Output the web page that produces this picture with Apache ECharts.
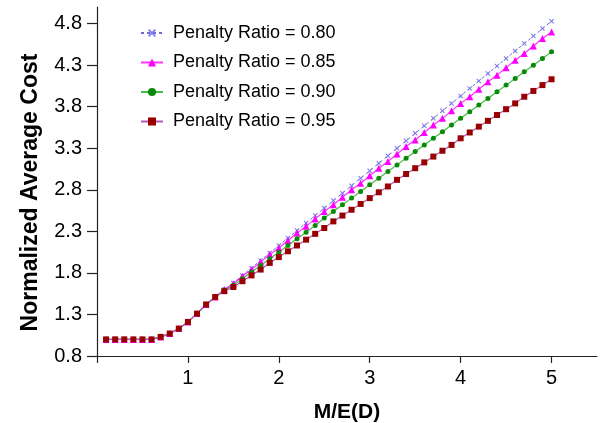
<!DOCTYPE html>
<html>
<head>
<meta charset="utf-8">
<script src="https://cdn.jsdelivr.net/npm/echarts@6/dist/echarts.min.js"></script>
<style>
  html, body { margin: 0; padding: 0; background: #fff; }
  #chart { width: 601px; height: 423px; }
</style>
</head>
<body>
<div id="chart"></div>
<script>
// x: M/E(D)
const xValues = [0.1, 0.2, 0.3, 0.4, 0.5, 0.6, 0.7, 0.8, 0.9, 1.0,
  1.1, 1.2, 1.3, 1.4, 1.5, 1.6, 1.7, 1.8, 1.9, 2.0,
  2.1, 2.2, 2.3, 2.4, 2.5, 2.6, 2.7, 2.8, 2.9, 3.0,
  3.1, 3.2, 3.3, 3.4, 3.5, 3.6, 3.7, 3.8, 3.9, 4.0,
  4.1, 4.2, 4.3, 4.4, 4.5, 4.6, 4.7, 4.8, 4.9, 5.0];

const ratio080 = [1.00, 1.00, 1.00, 1.00, 1.00, 1.00, 1.03, 1.07, 1.13, 1.21,
  1.31, 1.42, 1.51, 1.60, 1.68, 1.77, 1.86, 1.95, 2.04, 2.13,
  2.22, 2.31, 2.40, 2.49, 2.58, 2.67, 2.76, 2.85, 2.94, 3.03,
  3.12, 3.21, 3.30, 3.39, 3.48, 3.57, 3.66, 3.75, 3.84, 3.93,
  4.02, 4.11, 4.20, 4.29, 4.38, 4.47, 4.56, 4.65, 4.74, 4.83];

const ratio085 = [1.00, 1.00, 1.00, 1.00, 1.00, 1.00, 1.03, 1.07, 1.13, 1.21,
  1.31, 1.42, 1.51, 1.60, 1.67, 1.76, 1.84, 1.93, 2.02, 2.10,
  2.19, 2.28, 2.36, 2.45, 2.54, 2.62, 2.71, 2.80, 2.88, 2.97,
  3.06, 3.14, 3.23, 3.32, 3.40, 3.49, 3.58, 3.66, 3.75, 3.84,
  3.92, 4.01, 4.10, 4.18, 4.27, 4.36, 4.44, 4.53, 4.62, 4.70];

const ratio090 = [1.00, 1.00, 1.00, 1.00, 1.00, 1.00, 1.03, 1.07, 1.13, 1.21,
  1.31, 1.42, 1.51, 1.59, 1.65, 1.73, 1.81, 1.89, 1.97, 2.05,
  2.13, 2.21, 2.29, 2.37, 2.46, 2.54, 2.62, 2.70, 2.78, 2.86,
  2.94, 3.02, 3.10, 3.18, 3.26, 3.34, 3.42, 3.50, 3.58, 3.66,
  3.74, 3.82, 3.90, 3.98, 4.06, 4.14, 4.22, 4.30, 4.38, 4.46];

const ratio095 = [1.00, 1.00, 1.00, 1.00, 1.00, 1.00, 1.03, 1.07, 1.13, 1.21,
  1.31, 1.42, 1.51, 1.58, 1.63, 1.70, 1.77, 1.84, 1.92, 1.99,
  2.06, 2.13, 2.20, 2.27, 2.34, 2.42, 2.49, 2.56, 2.63, 2.70,
  2.77, 2.84, 2.92, 2.99, 3.06, 3.13, 3.20, 3.27, 3.34, 3.42,
  3.49, 3.56, 3.63, 3.70, 3.77, 3.84, 3.92, 3.99, 4.06, 4.13];

const seriesNames = ['Penalty Ratio = 0.80', 'Penalty Ratio = 0.85', 'Penalty Ratio = 0.90', 'Penalty Ratio = 0.95'];

const xTicks = [0, 1, 2, 3, 4, 5];
const xTickLabels = [1, 2, 3, 4, 5];
const yTicks = [0.8, 1.3, 1.8, 2.3, 2.8, 3.3, 3.8, 4.3, 4.8];

const FONT = '"Liberation Sans", Arial, Helvetica, sans-serif';
const crossSymbol = 'path://M0,1.5L1.5,0L5,3.5L8.5,0L10,1.5L6.5,5L10,8.5L8.5,10L5,6.5L1.5,10L0,8.5L3.5,5Z';

const pairs = vals => xValues.map((x, i) => [x, vals[i]]);

const chart = echarts.init(document.getElementById('chart'), null, { renderer: 'canvas' });

chart.setOption({
    animation: false,
    backgroundColor: '#fff',
    textStyle: { fontFamily: FONT, color: '#000' },
    grid: {
        left: 97, top: 7, right: 4, bottom: 67,
        containLabel: false,
        outerBoundsMode: 'none'
    },
    legend: {
        orient: 'vertical',
        left: 135, top: 19,
        itemWidth: 22, itemHeight: 10,
        itemGap: 11.5,
        textStyle: { fontFamily: FONT, fontSize: 18, color: '#000', lineHeight: 18, padding: [0, 0, 0, 5] },
        data: seriesNames
    },
    xAxis: {
        type: 'value',
        min: 0, max: 5.5,
        name: 'M/E(D)',
        nameLocation: 'middle',
        nameGap: 46,
        nameTextStyle: { fontFamily: FONT, fontSize: 21, fontWeight: 'bold', color: '#000' },
        axisLine: { lineStyle: { color: '#222', width: 1.2 } },
        axisTick: { show: true, length: 7, customValues: xTicks, lineStyle: { color: '#222', width: 1.2 } },
        axisLabel: { customValues: xTickLabels, fontSize: 20, margin: 12, color: '#000', fontFamily: FONT },
        splitLine: { show: false }
    },
    yAxis: {
        type: 'value',
        min: 0.8, max: 5.0,
        name: 'Normalized Average Cost',
        nameLocation: 'middle',
        nameGap: 55,
        nameTextStyle: { fontFamily: FONT, fontSize: 23, fontWeight: 'bold', color: '#000', padding: [0, 22, 0, 0] },
        axisLine: { lineStyle: { color: '#222', width: 1.2 } },
        axisTick: { show: true, length: 10, customValues: yTicks, lineStyle: { color: '#222', width: 1.2 } },
        axisLabel: {
            customValues: yTicks, fontSize: 20, margin: 15, color: '#000', fontFamily: FONT,
            formatter: v => v.toFixed(1)
        },
        splitLine: { show: false }
    },
    series: [
        {
            name: seriesNames[0],
            type: 'line',
            data: pairs(ratio080),
            showAllSymbol: true,
            symbol: crossSymbol,
            symbolSize: 5,
            itemStyle: { color: '#7b7be6' },
            lineStyle: { color: '#6a6ae0', width: 1, type: [3, 3] }
        },
        {
            name: seriesNames[1],
            type: 'line',
            data: pairs(ratio085),
            showAllSymbol: true,
            symbol: 'triangle',
            symbolSize: 7,
            itemStyle: { color: '#ff00ff' },
            lineStyle: { color: '#ff33ff', width: 1.2 }
        },
        {
            name: seriesNames[2],
            type: 'line',
            data: pairs(ratio090),
            showAllSymbol: true,
            symbol: 'circle',
            symbolSize: 5,
            itemStyle: { color: '#078a07' },
            lineStyle: { color: '#44bb44', width: 1.2 }
        },
        {
            name: seriesNames[3],
            type: 'line',
            data: pairs(ratio095),
            showAllSymbol: true,
            symbol: 'rect',
            symbolSize: 6,
            itemStyle: { color: '#990000' },
            lineStyle: { color: '#b455b4', width: 1.2 }
        }
    ]
});

window.addEventListener('resize', () => chart.resize());
</script>
</body>
</html>
